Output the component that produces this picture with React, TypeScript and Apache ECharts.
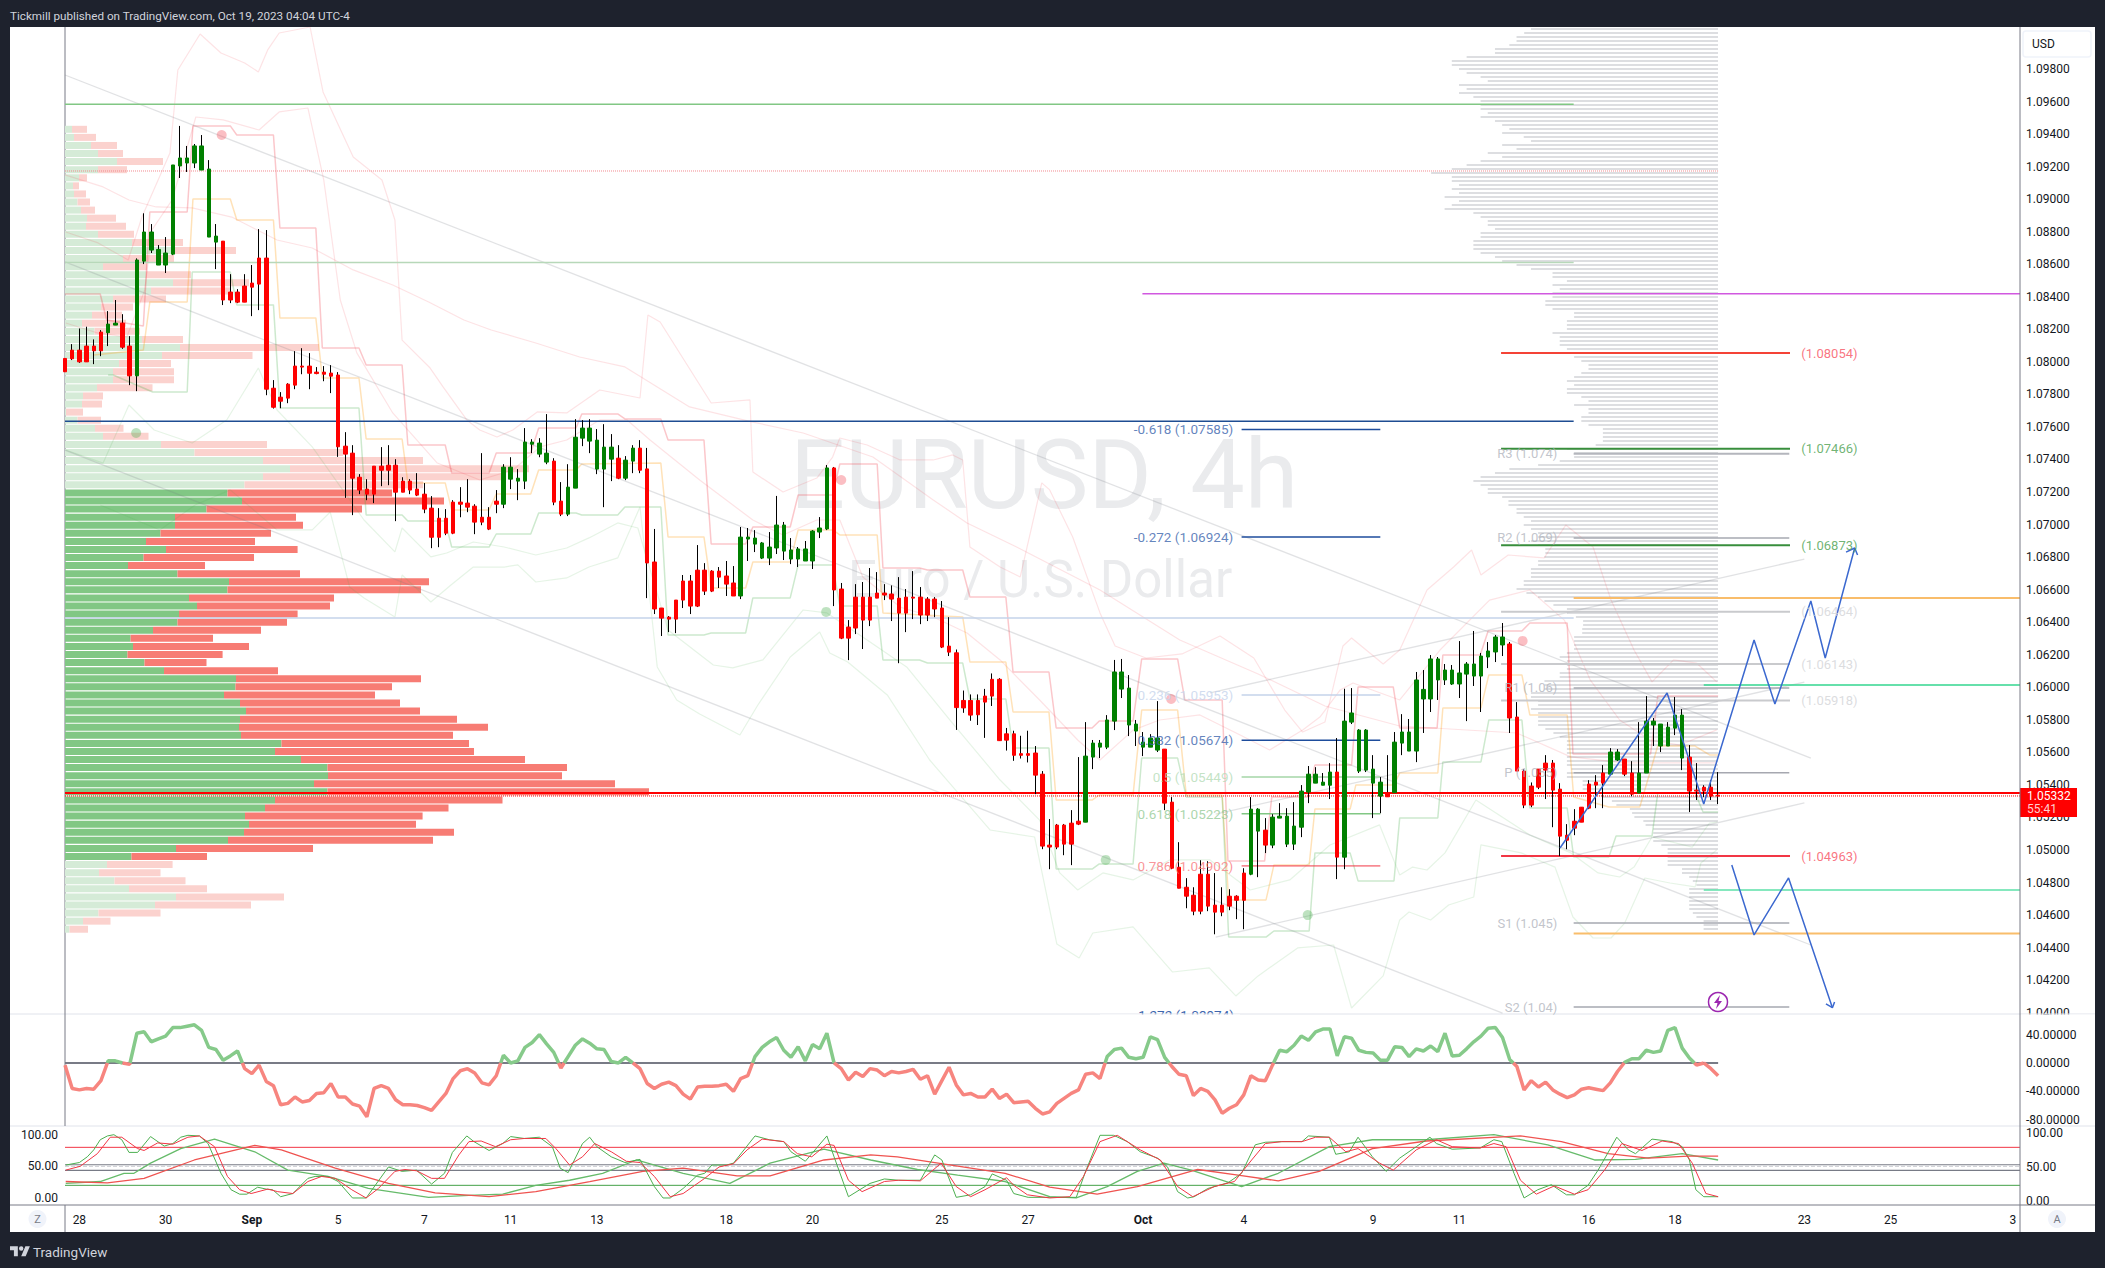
import React, { useEffect, useRef } from "react";
import * as echarts from "echarts";

const FONT = "Roboto, sans-serif";
const barCount = 273;
const dateLabels: Record<number, string> = {
  2: "28", 14: "30", 26: "Sep", 38: "5", 50: "7", 62: "11", 74: "13", 92: "18", 104: "20", 122: "25", 134: "27",
  150: "Oct", 164: "4", 182: "9", 194: "11", 212: "16", 224: "18", 242: "23", 254: "25", 271: "3",
};
const priceTicks = [1.04,1.042,1.044,1.046,1.048,1.05,1.052,1.054,1.056,1.058,1.06,1.062,1.064,1.066,1.068,1.07,1.072,1.074,1.076,1.078,1.08,1.082,1.084,1.086,1.088,1.09,1.092,1.094,1.096,1.098];
const cciTicks = [40, 0, -40, -80];
const stochTicks = [100, 50, 0];

// [open, close, low, high]
const candles: number[][] = [
[1.08021,1.07939,1.07939,1.08021],[1.08072,1.08019,1.08011,1.08109],[1.08072,1.08,1.07994,1.08205],[1.08097,1.08,1.08,1.08216],[1.08097,1.08068,1.07986,1.08138],[1.08183,1.08068,1.08035,1.08195],
[1.08179,1.08232,1.08097,1.08312],[1.08226,1.08238,1.08226,1.0838],[1.08238,1.0809,1.0808,1.08293],[1.08097,1.07914,1.07857,1.08158],[1.07914,1.08626,1.0782,1.08636],[1.08619,1.08798,1.08601,1.08913],
[1.08687,1.08798,1.08669,1.08847],[1.08595,1.08691,1.08595,1.08718],[1.08595,1.08669,1.08546,1.08767],[1.08662,1.0921,1.08656,1.0921],[1.09204,1.09253,1.0913,1.0945],[1.09222,1.09253,1.09167,1.09327],
[1.09222,1.09327,1.09191,1.09339],[1.09179,1.09327,1.09179,1.09394],[1.08767,1.09185,1.08767,1.0924],[1.08736,1.08773,1.0857,1.08847],[1.08742,1.0838,1.08349,1.08742],[1.08429,1.0838,1.08361,1.08539],
[1.08429,1.08367,1.08361,1.08447],[1.08466,1.08367,1.08367,1.08539],[1.08484,1.08459,1.08281,1.08595],[1.08638,1.08478,1.08318,1.08816],[1.08638,1.07832,1.07795,1.0881],[1.07838,1.07721,1.07713,1.07888],
[1.07783,1.07758,1.07715,1.07814],[1.07863,1.07777,1.07746,1.07869],[1.07974,1.07857,1.07832,1.08066],[1.07974,1.07968,1.07924,1.08084],[1.07974,1.0793,1.07832,1.08054],[1.07937,1.07928,1.07924,1.07968],
[1.07937,1.07924,1.07881,1.07974],[1.07931,1.07912,1.07808,1.0798],[1.07919,1.07478,1.07416,1.07937],[1.07482,1.07433,1.07164,1.07568],[1.07439,1.07285,1.07058,1.07488],[1.07291,1.07212,1.07187,1.0731],
[1.07218,1.07187,1.0715,1.07279],[1.07359,1.07187,1.07132,1.07359],[1.07359,1.07334,1.07236,1.07476],[1.07365,1.07334,1.07242,1.07488],[1.07365,1.07199,1.07021,1.07402],[1.07267,1.07199,1.07199,1.07291],
[1.07267,1.07212,1.07187,1.07279],[1.07218,1.07181,1.07175,1.07316],[1.07187,1.07095,1.0707,1.07255],[1.07101,1.06922,1.06855,1.07175],[1.07039,1.06922,1.06861,1.07101],[1.07039,1.06947,1.06935,1.07095],
[1.07138,1.06947,1.06941,1.0715],[1.07138,1.07125,1.07045,1.0723],[1.07132,1.07107,1.07076,1.07279],[1.07113,1.07015,1.06941,1.07125],[1.07045,1.07015,1.06996,1.07439],[1.07045,1.06972,1.06966,1.07107],
[1.07144,1.07125,1.0707,1.07212],[1.07125,1.07353,1.07101,1.07371],[1.07279,1.07353,1.07218,1.07414],[1.07267,1.07285,1.0715,1.07341],[1.07267,1.07507,1.07218,1.07593],[1.07494,1.07507,1.07439,1.07525],
[1.07433,1.07501,1.07414,1.07531],[1.07384,1.07439,1.07371,1.07679],[1.0739,1.07138,1.07119,1.07408],[1.07144,1.07064,1.07052,1.07261],[1.07064,1.0723,1.07052,1.07371],[1.07224,1.07537,1.07224,1.07648],
[1.07531,1.07593,1.07482,1.07642],[1.07513,1.07593,1.07439,1.07648],[1.07341,1.07519,1.0731,1.07587],[1.07341,1.07476,1.07107,1.07617],[1.07402,1.07476,1.07267,1.07556],[1.07408,1.07285,1.07279,1.07488],
[1.07285,1.07396,1.07273,1.07421],[1.0739,1.0747,1.07316,1.07488],[1.0747,1.07334,1.07316,1.07519],[1.07342,1.06764,1.06548,1.07471],[1.0677,1.06481,1.0645,1.06973],[1.06487,1.06425,1.06315,1.06487],
[1.06431,1.06419,1.06339,1.06438],[1.06536,1.06419,1.06333,1.06536],[1.06653,1.06536,1.06487,1.0669],[1.06653,1.06499,1.0645,1.0669],[1.0672,1.06499,1.06493,1.06874],[1.0672,1.06591,1.06567,1.06763],
[1.06714,1.06591,1.06585,1.0672],[1.06714,1.06677,1.0661,1.06739],[1.06684,1.06634,1.06561,1.06776],[1.06641,1.06561,1.06561,1.06745],[1.06561,1.06923,1.06542,1.06985],[1.06911,1.06923,1.06776,1.06979],
[1.0688,1.06917,1.06831,1.06966],[1.06794,1.06887,1.06788,1.06893],[1.06794,1.06862,1.06751,1.06954],[1.06856,1.06997,1.06819,1.07176],[1.06837,1.06997,1.06782,1.07016],[1.06788,1.06844,1.06757,1.06917],
[1.06788,1.0685,1.06739,1.06862],[1.06776,1.0685,1.06776,1.06899],[1.06776,1.0696,1.06727,1.06966],[1.06954,1.06979,1.06917,1.07046],[1.06973,1.07348,1.06966,1.07366],[1.07348,1.06598,1.06499,1.07354],
[1.06604,1.06302,1.06296,1.06641],[1.0637,1.06302,1.06167,1.06413],[1.06554,1.06364,1.06327,1.06634],[1.06554,1.06413,1.06235,1.06647],[1.06554,1.06413,1.06376,1.06733],[1.06579,1.06548,1.06548,1.06708],
[1.06579,1.06567,1.06536,1.06634],[1.06573,1.06542,1.06407,1.06626],[1.06548,1.06456,1.06148,1.06677],[1.06554,1.06456,1.06339,1.06604],[1.06554,1.06548,1.06419,1.06714],[1.06554,1.06444,1.06388,1.06616],
[1.06542,1.06444,1.06407,1.06554],[1.06542,1.06481,1.06431,1.06554],[1.06487,1.06247,1.06241,1.0653],[1.06253,1.06216,1.06192,1.06431],[1.06212,1.05875,1.05738,1.06232],[1.05919,1.05873,1.05843,1.0598],
[1.05919,1.05829,1.05794,1.05956],[1.05919,1.05831,1.05768,1.05956],[1.05946,1.05909,1.05689,1.0599],[1.06049,1.05946,1.05885,1.06085],[1.06049,1.05672,1.0567,1.06056],[1.05714,1.05675,1.05611,1.0575],
[1.05714,1.05582,1.05548,1.05733],[1.05592,1.05582,1.05562,1.05702],[1.05592,1.05582,1.05538,1.05733],[1.05596,1.0546,1.05343,1.05639],[1.05466,1.05024,1.05005,1.05485],[1.0503,1.05018,1.04882,1.0519],
[1.05153,1.05018,1.05005,1.0516],[1.05153,1.05036,1.04968,1.0516],[1.05165,1.05036,1.04907,1.05245],[1.05177,1.05159,1.05153,1.05571],[1.05171,1.05577,1.05171,1.05786],[1.05571,1.05657,1.05497,1.05676],
[1.05632,1.05657,1.05565,1.05676],[1.05632,1.05799,1.0562,1.05829],[1.05792,1.06094,1.05737,1.06168],[1.05989,1.06094,1.05934,1.06174],[1.05768,1.05995,1.057,1.06075],[1.05731,1.05774,1.05639,1.05799],
[1.05632,1.05663,1.05577,1.05725],[1.05632,1.05688,1.05632,1.05712],[1.05614,1.05688,1.05602,1.05915],[1.0562,1.05288,1.05245,1.0562],[1.05294,1.04888,1.04882,1.05325],[1.04894,1.04765,1.04765,1.05048],
[1.04771,1.04716,1.04642,1.04827],[1.04722,1.04624,1.04599,1.04771],[1.04851,1.04624,1.04605,1.04937],[1.04851,1.04655,1.04624,1.04931],[1.04661,1.04618,1.04482,1.04858],[1.04661,1.04618,1.04593,1.04771],
[1.04716,1.04655,1.0463,1.04759],[1.04716,1.04691,1.04575,1.04722],[1.04858,1.04691,1.04513,1.04888],[1.04851,1.05251,1.04845,1.05325],[1.05116,1.05251,1.04833,1.05257],[1.05122,1.0503,1.04981,1.05196],
[1.0503,1.05202,1.05011,1.0522],[1.05196,1.05208,1.05196,1.05288],[1.05036,1.05208,1.05018,1.05257],[1.05036,1.05147,1.05,1.05294],[1.0514,1.05362,1.05079,1.05399],[1.05356,1.05466,1.05288,1.05516],
[1.05411,1.05466,1.05411,1.05509],[1.05398,1.05417,1.05398,1.05473],[1.05398,1.05479,1.05313,1.05534],[1.05479,1.04956,1.04821,1.05688],[1.04956,1.05792,1.04882,1.05991],[1.05786,1.05842,1.05774,1.05995],
[1.05485,1.05737,1.05473,1.05743],[1.05491,1.05737,1.05479,1.05743],[1.05411,1.05497,1.05196,1.05583],[1.05331,1.05417,1.05226,1.05448],[1.05352,1.05327,1.05327,1.05583],[1.05352,1.05663,1.05352,1.05725],
[1.05657,1.05725,1.05583,1.05835],[1.05608,1.05725,1.05608,1.05805],[1.05608,1.06045,1.0554,1.06094],[1.05928,1.05987,1.05719,1.06106],[1.05928,1.06174,1.05848,1.06198],[1.06045,1.06174,1.05922,1.06186],
[1.06045,1.06106,1.06014,1.06143],[1.0602,1.06106,1.06014,1.06137],[1.0602,1.06088,1.05934,1.06284],[1.06081,1.06143,1.05792,1.06155],[1.06069,1.06143,1.06008,1.06346],[1.06069,1.06192,1.05848,1.06211],
[1.06186,1.06223,1.06118,1.06278],[1.06217,1.06309,1.06155,1.06321],[1.0626,1.06309,1.06192,1.06395],[1.06266,1.05811,1.05719,1.06278],[1.05817,1.05485,1.05485,1.05909],[1.05485,1.05276,1.05257,1.05497],
[1.05393,1.05276,1.05263,1.05415],[1.05497,1.05386,1.05374,1.05497],[1.05534,1.05491,1.05313,1.05583],[1.05534,1.05368,1.0514,1.05553],[1.05374,1.05085,1.04962,1.05411],[1.05091,1.0506,1.05005,1.05159],
[1.05177,1.05134,1.05091,1.05251],[1.05263,1.05171,1.05171,1.05263],[1.05405,1.05257,1.05251,1.05429],[1.05417,1.05399,1.05257,1.0546],[1.05473,1.05411,1.05257,1.05522],[1.05466,1.05602,1.05466,1.05626],
[1.05553,1.05602,1.05547,1.0562],[1.05559,1.05466,1.05454,1.05559],[1.05473,1.05343,1.05331,1.05546],[1.0535,1.05473,1.0535,1.05786],[1.05473,1.05792,1.05473,1.05946],[1.05768,1.05792,1.05639,1.05811],
[1.05639,1.05774,1.05602,1.05774],[1.05639,1.05755,1.05639,1.05786],[1.05749,1.05829,1.05706,1.0594],[1.05565,1.05829,1.05491,1.05866],[1.05571,1.05362,1.05233,1.05645],[1.05368,1.05362,1.05307,1.05534],
[1.05386,1.05362,1.05325,1.05398],[1.05386,1.05331,1.05307,1.05429],[1.05337,1.05331,1.05282,1.05479],
];

const cciValues = [-3,-36,-38,-36,-37,-25,3,3,0,-2,42,44,30,34,38,50,50,52,54,46,22,19,4,10,17,-8,-15,-3,-26,-32,-59,-57,-48,-55,-53,-43,-42,-29,-48,-48,-58,-61,-76,-36,-32,-36,-52,-59,-59,-60,-63,-67,-55,-43,-22,-11,-8,-14,-28,-31,-18,11,0,3,22,29,40,27,15,-7,9,25,34,28,20,19,2,0,8,0,-8,-29,-36,-30,-27,-32,-44,-51,-34,-33,-33,-32,-30,-40,-22,-18,9,22,30,36,18,8,23,3,26,20,42,0,-8,-24,-13,-19,-8,-10,-18,-12,-14,-12,-9,-23,-18,-44,-25,-6,-31,-45,-43,-48,-48,-37,-50,-44,-56,-55,-54,-64,-72,-69,-57,-50,-43,-38,-16,-14,-22,9,19,21,8,6,8,37,33,8,-5,-16,-18,-46,-36,-40,-52,-71,-64,-59,-45,-18,-24,-25,-3,18,16,25,38,32,44,48,48,10,37,35,18,15,14,4,4,23,22,9,20,17,24,16,42,10,11,20,30,38,49,50,36,5,-5,-38,-25,-34,-27,-38,-44,-49,-45,-37,-35,-37,-39,-28,-12,1,6,6,18,15,17,46,50,21,7,-3,0,-8,-18];

const stochFastK = [[0.1,52],[2,56],[3.1,65],[4,76],[4.9,92],[5.9,98],[6.8,100],[7.9,92],[8.9,72],[10.1,72],[11.9,97],[13.8,82],[15,86],[16.1,96],[17.1,99],[18.7,98],[19.9,86],[21.7,39],[23.1,13],[24.3,6],[25.3,6],[26.8,17],[28,14],[28.9,13],[30,2],[31.7,7],[33.8,31],[34.8,34],[36.6,34],[38,26],[40,0],[41.9,0],[45,49],[46.9,42],[48.9,44],[51,22],[52.8,39],[53.9,72],[55.9,98],[56.9,89],[59,75],[60.9,86],[62,97],[63.9,94],[66,96],[67.8,81],[68.9,47],[70,40],[72,86],[73,96],[74,81],[76,65],[77.9,56],[80,61],[82,18],[83.2,0],[84.2,0],[86,15],[88,36],[89,39],[90,52],[92,52],[93,55],[96,98],[98,92],[100,89],[101,73],[103,58],[106,98],[107,65],[109,2],[112,23],[114,30],[116,28],[119,28],[121,68],[122,60],[124,1],[126,5],[128,18],[129,38],[131,28],[132,7],[134,1],[137,1],[140.7,1],[141.9,39],[144,99],[145.9,99],[147.8,89],[149.6,73],[152,63],[153.4,49],[154.8,10],[156.2,0],[157.1,2],[159,15],[161.8,24],[163.7,39],[165.6,84],[167,88],[169.3,89],[172.1,89],[173,98],[175.9,96],[176.8,69],[178.7,73],[179.9,96],[181.9,65],[183.8,42],[185.7,63],[188,81],[189.9,96],[190.8,86],[193,77],[196.9,79],[198.8,92],[199.9,89],[201.6,39],[203,0],[204.9,13],[206.8,21],[208.9,5],[210,5],[211.9,20],[213.3,44],[215.9,96],[217.5,76],[218.5,70],[220.8,93],[223.6,89],[225,81],[226,60],[226.9,13],[228,2],[230,2]];
const stochFastD = [[0.1,44],[2.1,50],[4.5,70],[6.3,96],[7.9,96],[10.1,78],[11,75],[12.9,87],[15,85],[17.1,96],[18.7,98],[20.8,81],[22.6,34],[24.3,13],[25.9,7],[28.2,14],[29.6,10],[31.7,7],[33.8,26],[35.7,34],[37.6,31],[39.9,13],[41.9,0],[43.6,15],[45.9,42],[47.3,45],[48.9,43],[51,31],[52.8,31],[54.8,68],[56.2,89],[57.9,90],[59.9,81],[62,92],[63.9,94],[66.9,94],[68.3,78],[70.2,52],[72,65],[73.7,86],[76,73],[78.1,58],[80,56],[82,34],[84.2,2],[86,7],[89,31],[91,49],[93,54],[94.9,76],[97,93],[100,89],[101.9,70],[103.9,65],[106,85],[107,83],[109,28],[110.9,10],[114,26],[116,28],[119,27],[121.9,55],[124,18],[126,2],[128,13],[131,32],[132,20],[133.9,5],[137,0],[139.8,2],[141.7,34],[144,89],[146.4,99],[149.6,76],[152.4,60],[154.8,18],[156.9,2],[159.9,18],[162.7,26],[165.1,60],[167,86],[169.3,89],[172.1,89],[174,96],[175.9,96],[178.2,73],[179.9,78],[182.9,55],[184.8,44],[188,76],[190.8,92],[193,81],[196.9,79],[198.8,86],[200.5,81],[202.5,28],[204.7,6],[207.2,19],[210,6],[211.9,13],[214.2,44],[216.6,86],[219.4,75],[222.2,90],[224.5,86],[226.4,55],[228.3,7],[230,2]];
const stochSlowK = [[0.1,23],[4.9,26],[8.2,39],[9.6,39],[11.9,55],[16.1,78],[20.8,93],[26.4,73],[31,44],[36.6,34],[42.2,15],[50.6,1],[56.2,4],[60.9,6],[65.5,20],[70.2,28],[74.8,39],[79.5,60],[86,39],[92.5,23],[98.1,55],[105.6,77],[112.1,60],[118.6,45],[124.2,36],[130.8,26],[137,2],[140.7,0],[145,18],[149.2,42],[152.9,55],[156.7,44],[163.7,18],[168.8,39],[175.9,81],[181.9,92],[189.4,92],[198.8,100],[206.3,84],[212.8,60],[218.5,61],[225,70],[230,60]];
const stochSlowD = [[0.1,26],[5.9,24],[11,31],[18,60],[26.4,83],[30.1,76],[37.6,47],[45,23],[51.5,8],[59,2],[65.5,10],[73,26],[80.4,42],[86,47],[93.5,35],[98.1,35],[105.6,60],[112.1,68],[115.8,65],[123.3,52],[130.8,39],[137,17],[143.6,6],[149.2,18],[157.6,45],[163.2,36],[168.8,27],[174.5,42],[181.9,78],[189.4,90],[202.5,98],[208.2,89],[214.7,70],[220.3,63],[225.9,66],[230,66]];

const upperChannel = [[0,1.08417],[4.9,1.08417],[5.8,1.08257],[10.9,1.0822],[11.8,1.08921],[17,1.08921],[17.8,1.0945],[23,1.0945],[23.9,1.09394],[29,1.09394],[29.9,1.08823],[34.9,1.08823],[35.8,1.08085],[40.9,1.08085],[41.9,1.07981],[46.9,1.07981],[47.7,1.07489],[52.9,1.07489],[53.8,1.07317],[59,1.07317],[60,1.0744],[64.8,1.0744],[65.9,1.07594],[71.1,1.07594],[71.9,1.0768],[76.9,1.0768],[77.9,1.07649],[82.9,1.07649],[83.9,1.0752],[88.9,1.0752],[89.9,1.06881],[94.7,1.06881],[95.7,1.06985],[100.9,1.06985],[102,1.07182],[106.8,1.07182],[107.8,1.07372],[113,1.07372],[113.8,1.06733],[118.9,1.06733],[120,1.06721],[124.9,1.06721],[125.9,1.06555],[130.9,1.06555],[131.9,1.06094],[136.9,1.06094],[137.9,1.0575],[142.9,1.0575],[143.9,1.05793],[148.6,1.05793],[149.8,1.06174],[154.8,1.06174],[155.8,1.05922],[161,1.05922],[161.8,1.04932],[166.9,1.04932],[167.9,1.05326],[172.9,1.05326],[173.9,1.05522],[179,1.05522],[179.9,1.06002],[184.8,1.06002],[185.7,1.0575],[190.9,1.0575],[191.7,1.06198],[196.9,1.06198],[198,1.06346],[202.7,1.06346],[203.8,1.06395],[209,1.06395],[209.8,1.0559],[220.6,1.0559],[221.6,1.05946],[230,1.05946]];
const midChannel = [[4,1.08042],[10.9,1.08073],[11.8,1.08368],[17,1.08368],[17.8,1.09001],[23,1.09001],[23.9,1.08872],[29,1.08872],[29.9,1.0827],[34.9,1.0827],[35.8,1.07901],[40.9,1.07901],[41.9,1.07526],[46.9,1.07526],[47.7,1.07256],[52.9,1.07256],[53.8,1.0709],[59,1.0709],[60,1.07188],[64.8,1.07188],[65.9,1.07335],[71.1,1.07335],[71.9,1.07372],[82.9,1.07378],[83.9,1.06924],[88.9,1.06924],[89.9,1.0661],[94.7,1.0661],[95.7,1.0677],[100.9,1.0677],[102,1.06967],[106.8,1.06967],[107.8,1.06936],[113,1.06936],[113.8,1.06457],[124.9,1.06432],[125.9,1.06155],[130.9,1.06155],[131.9,1.05848],[136.9,1.05848],[137.9,1.05307],[142.9,1.05307],[143.9,1.05338],[148.6,1.05338],[149.8,1.0586],[154.8,1.0586],[156,1.05338],[161,1.05338],[161.9,1.04693],[167.1,1.04693],[168.2,1.04908],[173.1,1.04908],[173.9,1.05252],[178.8,1.05252],[179.6,1.054],[184.9,1.054],[185.7,1.05473],[191,1.05473],[191.7,1.05873],[197,1.05873],[198.1,1.06076],[202.7,1.06076],[203.8,1.0583],[209,1.0583],[209.9,1.05326],[214.8,1.05264],[219.1,1.05264],[221.6,1.05639],[226.8,1.05639],[228.8,1.05584],[230,1.05584]];
const lowerChannel = [[6,1.07919],[6.7,1.07919],[12.2,1.07815],[17,1.07815],[17.7,1.08552],[23,1.08552],[23.9,1.0835],[29,1.0835],[29.9,1.07716],[40.9,1.07716],[41.9,1.07059],[46.9,1.07059],[47.7,1.07022],[52.9,1.07022],[53.8,1.06862],[59,1.06862],[60,1.06942],[64.8,1.06942],[65.9,1.07071],[71.1,1.07071],[71.9,1.07059],[76.9,1.07059],[77.9,1.07108],[82.9,1.07108],[83.9,1.06321],[88.9,1.06321],[89.9,1.06334],[94.7,1.06334],[95.7,1.06549],[100.9,1.06549],[102,1.06752],[106.8,1.06752],[107.8,1.065],[113,1.065],[113.8,1.06168],[118.9,1.06168],[120,1.06149],[124.9,1.06149],[125.9,1.05928],[130.9,1.05928],[131.9,1.05627],[136.9,1.05627],[137.9,1.04883],[142.9,1.04883],[143.9,1.04914],[148.6,1.04914],[149.8,1.05565],[154.8,1.05565],[156,1.05326],[161,1.05326],[161.9,1.04465],[167.1,1.04465],[168.2,1.04502],[173.1,1.04502],[173.9,1.04982],[178.8,1.04982],[179.9,1.0481],[184.9,1.0481],[185.7,1.05197],[191,1.05197],[191.7,1.05541],[197,1.05541],[198.1,1.05799],[202.7,1.05799],[203.8,1.05258],[209,1.05258],[209.9,1.04957],[214.8,1.04957],[215.8,1.05086],[220.8,1.05086],[221.6,1.0535],[226.8,1.0535],[227.9,1.05233],[230,1.05233]];

const pinkOuter = [[0.1,1.08798],[4.6,1.08731],[8.8,1.08626],[10.7,1.0889],[14.6,1.09284],[15.7,1.09794],[18.8,1.10015],[21.7,1.09898],[25,1.09837],[26.9,1.09782],[28.2,1.09917],[29.8,1.10021],[34.1,1.10058],[35.9,1.09659],[40.1,1.09259],[44.1,1.09118],[45.9,1.08872],[46.9,1.08134],[50.8,1.07962],[52.6,1.07846],[55.9,1.07643],[57.7,1.07581],[60.1,1.07538],[62.3,1.07581],[65.7,1.07692],[69.8,1.07686],[74.4,1.07827],[80,1.07778],[81.1,1.08288],[82.8,1.08245],[89.9,1.07747],[95.3,1.07766],[95.7,1.07323],[99.9,1.072],[104.6,1.07286],[106.8,1.07415],[107.8,1.07532],[111.6,1.07489],[116.2,1.07397],[120.8,1.07397],[123.5,1.07428],[124.9,1.07397],[125.9,1.06862],[130.1,1.06739],[132.9,1.06678],[135.9,1.07256],[137,1.07213],[140.2,1.06924],[144,1.06457],[146.1,1.06254],[150.4,1.0618],[155.4,1.06205],[160.7,1.06315],[165.4,1.0618],[169.7,1.0586],[172.2,1.05725],[175.3,1.05787],[177.8,1.06254],[179,1.06303],[183.4,1.06143],[185.7,1.06229],[189.5,1.06598],[193.2,1.06739],[195.7,1.06844],[197,1.0669],[200.8,1.06813],[205.8,1.06795],[208.8,1.06997],[212.6,1.06862],[215.1,1.06536],[218.3,1.06229],[220.8,1.06033],[223.8,1.06168],[227,1.06149],[229.8,1.06033]];
const pinkInner = [[0.1,1.08239],[4.6,1.08177],[8.6,1.08153],[11.1,1.08442],[12.1,1.08811],[14.9,1.08995],[18.2,1.09505],[22,1.09487],[27,1.09425],[29.8,1.09536],[33.8,1.0956],[36,1.09118],[38.3,1.0838],[40.6,1.08055],[45.6,1.07686],[51.8,1.07378],[57.7,1.07274],[62.3,1.07335],[66.1,1.07477],[69.8,1.0752],[74.4,1.07643],[78.2,1.07643],[81.4,1.0752],[88.3,1.07274],[95.7,1.07028],[99.9,1.06936],[104.6,1.07028],[107.8,1.07028],[111,1.06678],[116.2,1.06493],[120.8,1.06432],[125.5,1.06334],[130.1,1.06168],[135.6,1.05922],[140.9,1.05676],[144,1.05553],[148.6,1.05737],[152.3,1.05799],[157.9,1.0583],[163.5,1.05707],[167.6,1.05615],[172.2,1.05737],[174.6,1.05817],[177.4,1.05983],[179.2,1.06026],[185.7,1.05922],[191.3,1.06229],[198.2,1.06536],[203.8,1.06598],[208.6,1.06413],[212.2,1.06045],[216.3,1.05799],[220.5,1.05676],[224.7,1.05645],[229.8,1.05738]];
const pinkBasis = [[0,1.09149],[5.3,1.09075],[8.9,1.08995],[12.7,1.08952],[17.7,1.08946],[23.2,1.0889],[29.5,1.08749],[34.4,1.087],[40.1,1.08565],[45.6,1.08472],[50.6,1.08368],[55.5,1.08257],[59.3,1.08196],[65.5,1.08116],[71.6,1.0803],[77.9,1.07969],[86.9,1.07723],[95.7,1.0763],[102.7,1.07563],[112.4,1.07415],[120.8,1.07151],[125.5,1.0701],[132.4,1.06862],[144,1.06598],[155.1,1.06291],[166,1.06082],[175.3,1.05885],[185.7,1.05762],[202,1.05719],[209.5,1.05572],[217,1.05535],[229.8,1.05535]];
const greenUpper = [[0.1,1.07458],[5.3,1.07378],[8.9,1.07735],[12.4,1.07581],[17.7,1.07501],[22.5,1.07643],[26.9,1.07962],[29.5,1.07704],[34.4,1.07477],[41.6,1.07028],[45.9,1.06832],[46.9,1.06979],[50.9,1.06801],[53.1,1.06825],[56.8,1.06893],[61.1,1.06862],[65.5,1.06813],[69.8,1.06856],[72.9,1.06918],[76.9,1.0701],[79.7,1.06979],[83.9,1.06352],[90.2,1.06137],[92.9,1.06119],[97.1,1.06168],[102.7,1.06475],[106,1.06457],[111.6,1.06291],[117.1,1.06125],[123.1,1.05799],[130.1,1.0543],[135.6,1.05184],[138.4,1.04859],[140.9,1.04754],[144.4,1.04859],[148.6,1.04816],[153.7,1.04939],[159.3,1.04939],[164.9,1.04754],[170.4,1.04816],[176,1.05031],[182.9,1.05154],[185.7,1.04846],[187.5,1.04895],[189.5,1.04877],[192,1.04982],[196.3,1.05307],[203.8,1.05092],[209.5,1.04982],[213.3,1.04859],[216.3,1.04834],[218.3,1.04895],[220.8,1.0508],[226.4,1.05018],[228.8,1.05166],[229.9,1.05172]];
const greenLower = [[4.9,1.0712],[13.2,1.06967],[18.1,1.0712],[23,1.07213],[29.5,1.06967],[34.4,1.06967],[36.9,1.07077],[39.6,1.06616],[41.6,1.06549],[45.9,1.06432],[46.9,1.0669],[50.9,1.06524],[53.7,1.06629],[56.8,1.06739],[61.1,1.06739],[63,1.06752],[65.5,1.06647],[69.8,1.06672],[72.9,1.06739],[76.9,1.06795],[80,1.07108],[82.4,1.06125],[85.1,1.05922],[88.3,1.05836],[93.9,1.05707],[96.4,1.05891],[100.9,1.06186],[105,1.0634],[106.4,1.06211],[108.9,1.06155],[114.4,1.05953],[120.3,1.05553],[128.7,1.05123],[134.9,1.0508],[138,1.04422],[141.1,1.04336],[143,1.0449],[148.6,1.04527],[154.1,1.0425],[159.2,1.04275],[162.9,1.04103],[166,1.04226],[171.5,1.04398],[176.5,1.04416],[179,1.04029],[183.4,1.04226],[185.7,1.0457],[187,1.04619],[190,1.0457],[192.5,1.04662],[196,1.04711],[197,1.05031],[202.6,1.04982],[207.3,1.04895],[209.8,1.04588],[212.6,1.04459],[215.1,1.04459],[217,1.04551],[219.8,1.04828],[223.3,1.04797],[226.8,1.04773],[227.6,1.0492],[229.8,1.05]];

const trendLines = [
  [[0,1.09763],[242.9,1.05565]], [[0,1.08614],[242.9,1.04416]], [[0,1.07458],[200,1.03998]],
  [[160.1,1.04465],[242,1.05289]], [[159.3,1.05965],[242,1.06788]], [[160.1,1.05221],[242,1.06032]],
];
const projectionUp = [[208,1.05012],[222.9,1.05965],[228,1.05283],[235,1.06291],[237.9,1.05897],[242.9,1.0653],[244.9,1.0618],[249,1.06856]];
const projectionUpHead = [[247.8,1.06831],[249,1.06856],[249.4,1.06813]];
const projectionDown = [[231.9,1.04908],[235,1.04478],[239.8,1.04828],[245.9,1.04031]];
const projectionDownHead = [[245,1.04054],[245.9,1.04031],[246.2,1.04066]];

// [price, fromBar, toBar, colour, width, type]
const levels: any[][] = [
  [1.09583,0,209.9,"#81c784",1.5,"solid"],[1.09173,0,230,"#f28b91",1,"dotted"],[1.08611,0,209.9,"#b7d8b9",1.5,"solid"],
  [1.07635,0,209.9,"#1e4d92",1.5,"solid"],[1.06426,0,209.9,"#c5d3ea",1.5,"solid"],[1.08419,149.9,272,"#d158e0",1.5,"solid"],
  [1.06549,209.9,272,"#f9bd6b",2,"solid"],[1.04486,209.9,272,"#f9bd6b",2,"solid"],[1.06014,228,272,"#33d68f",1.5,"solid"],[1.04754,228,272,"#5ce0a8",1.5,"solid"],
  [1.08054,199.8,240,"#f44336",2,"solid"],[1.07466,199.8,240,"#388e3c",2,"solid"],[1.06873,199.8,240,"#388e3c",2,"solid"],
  [1.06464,199.8,240,"#c9cacd",2,"solid"],[1.06143,199.8,240,"#c9cacd",2,"solid"],[1.05918,199.8,240,"#c9cacd",2,"solid"],[1.04963,199.8,240,"#f23645",2,"solid"],
  [1.07436,209.9,239.9,"#b4b6bd",2,"solid"],[1.06918,209.9,239.9,"#a6a8b0",1.5,"solid"],[1.05996,209.9,239.9,"#a6a8b0",1.5,"solid"],[1.05474,209.9,239.9,"#a6a8b0",1.5,"solid"],[1.04551,209.9,239.9,"#a6a8b0",1.5,"solid"],[1.04035,209.9,239.9,"#a6a8b0",1.5,"solid"],
  [1.07585,163.7,183,"#1e4d9c",1.5,"solid"],[1.06924,163.7,183,"#1e4d9c",1.5,"solid"],[1.05953,163.7,183,"#c5d3ea",1.5,"solid"],[1.05674,163.7,183,"#1e4d9c",1.5,"solid"],[1.05449,163.7,183,"#a5d6a7",1.5,"solid"],[1.05223,163.7,183,"#81c784",1.5,"solid"],[1.04902,163.7,183,"#f23645",1,"solid"],
  [1.0535,0,272,"#ff0000",2,"solid"],[1.05332,0,272,"#ff0000",1,"dotted"],
];

// [text, bar, price, side, colour]
const levelLabels: any[][] = [
  ["-0.618 (1.07585)",162.6,1.07585,"left","#3c65ad"],["-0.272 (1.06924)",162.6,1.06924,"left","#3c65ad"],["0.236 (1.05953)",162.6,1.05953,"left","#c6d4ec"],["0.382 (1.05674)",162.6,1.05674,"left","#3c65ad"],
  ["0.5 (1.05449)",162.6,1.05449,"left","#b5dcb7"],["0.618 (1.05223)",162.6,1.05223,"left","#96cb99"],["0.786 (1.04902)",162.6,1.04902,"left","#f77b80"],
  ["R3 (1.074)",207.7,1.07436,"left","#b2b5be"],["R2 (1.069)",207.7,1.06918,"left","#b2b5be"],["R1 (1.06)",207.7,1.05996,"left","#b2b5be"],["P (1.055)",207.7,1.05474,"left","#b2b5be"],["S1 (1.045)",207.7,1.04551,"left","#b2b5be"],["S2 (1.04)",207.7,1.04035,"left","#b2b5be"],
  ["(1.08054)",241.5,1.08054,"right","#f7525f"],["(1.07466)",241.5,1.07466,"right","#4c9f50"],["(1.06873)",241.5,1.06873,"right","#4c9f50"],["(1.06464)",241.5,1.06464,"right","#d3d4d7"],["(1.06143)",241.5,1.06143,"right","#d3d4d7"],["(1.05918)",241.5,1.05918,"right","#d3d4d7"],["(1.04963)",241.5,1.04963,"right","#f7525f"],
];

const highPoints = [[21.8,1.09394],[108,1.07274],[153.9,1.05928],[202.8,1.06285]];
const lowPoints = [[9.9,1.07563],[105.9,1.06463],[144.8,1.04939],[172.9,1.046]];

const profileUp = [7,9,26,33,52,33,14,8,9,12.5,16,22,21,33,67,109,58,38,81,108,86,48,36,27,17,29.5,77,115,97,54,48,48,32,18,17,1,12.5,30,38,96,129.5,198,225,198,179.5,162.5,177,141.5,110,110,95.5,81,101,78.6,63,112.5,164,162.5,124,132,114,112.5,88,65.6,68,62.5,79.5,99,171,170.5,159,175,181,175,174,176,216.5,210,236,262.5,263,249,262.5,210,200,180,184,179,163,111,66.5,42,34,49.5,64,111,90,33.5,18,4.5];
const profileTotal = [22,31,52,58,98,62,22,14,21,25,30,51,61,69,118,171,109,82,126,184,166,101,68,57,61,75,118,254,187.5,106,109,109,87.5,38,37,18,36,58.5,83.5,202,278,358,464,439,358,327,379,297,231,238,206,190,232.6,189,140,235,364,356,269,265,232.6,222,196,148,184,157.6,141.5,213,356,327,310,335,355,392,423,388,404,409,460,502,497,550,584,437.5,383.5,357.6,351,389,368,248,142,107.6,95.5,120.5,142,219,186,95.5,45.5,23];
const valueAreaRows = [45, 90];
const rightProfile = [416,431,448,448,464,496,496,559,592,592,576,559,528,512,576,559,576,544,528,528,528,512,528,496,480,464,480,432,416,480,448,512,480,528,559,592,638,592,592,576,592,576,608,576,592,608,544,528,512,512,496,528,528,544,544,544,528,496,480,448,416,368,368,336,368,352,368,368,384,384,368,320,320,336,336,336,368,352,352,352,336,320,320,304,288,288,304,320,336,320,336,336,304,288,320,288,288,304,304,288,256,256,256,256,272,336,320,320,352,400,464,496,528,544,528,512,512,480,
466,466,448,448,432,416,432,416,400,400,416,400,384,384,386,400,400,416,416,416,432,432,448,426,400,386,366,336,336,316,300,300,302,302,320,320,320,320,336,352,336,336,336,352,352,386,386,386,416,416,400,400,416,400,400,400,400,384,366,352,336,336,336,336,336,336,336,326,336,336,301,301,301,276,256,236,226,196,191,186,166,161,144,144,144,144,126,112,112,112,112,112,80,80,64,56,48,64,64,64,64,64,64,56,48,32,32,32];

const TV_LOGO = "M14 22H7V11H0V4h14v18zM28 22h-8l7.5-18h8L28 22zM16 8a4 4 0 1 0 8 0a4 4 0 1 0-8 0z";

function line(data: any, xAxisIndex: number, yAxisIndex: number, color: string, width: number, z = 2, type = "solid", extra: any = {}) {
  return { type: "line", data, xAxisIndex, yAxisIndex, symbol: "none", showSymbol: false, silent: true, z, lineStyle: { color, width, type }, ...extra };
}

// Splits the CCI into its positive and negative runs so each can take its own colour.
function signRuns(values: number[]) {
  const pos: any[] = [];
  const neg: any[] = [];
  values.forEach((v, i) => {
    if (i > 0) {
      const prev = values[i - 1];
      if ((prev < 0) !== (v < 0)) {
        const cross = i - 1 + (0 - prev) / (v - prev);
        pos.push([cross, 0]);
        neg.push([cross, 0]);
      }
    }
    pos.push([i, v >= 0 ? v : null]);
    neg.push([i, v < 0 ? v : null]);
  });
  return { pos, neg };
}

function buildOption() {
  const categories = Array.from({ length: barCount }, (_, i) => dateLabels[i] ?? "");
  const series: any[] = [];
  const strong = (r: number) => r >= valueAreaRows[0] && r <= valueAreaRows[1];
  const rowNames = profileUp.map((_, i) => `${i}`);
  series.push({ type: "bar", name: "Up volume", xAxisIndex: 5, yAxisIndex: 4, stack: "vp", barWidth: 7, silent: true, z: 1,
    data: profileUp.map((v, r) => ({ value: v, itemStyle: { color: strong(r) ? "#81c784" : "#d5ebd7" } })) });
  series.push({ type: "bar", name: "Down volume", xAxisIndex: 5, yAxisIndex: 4, stack: "vp", barWidth: 7, silent: true, z: 1,
    data: profileTotal.map((t, r) => ({ value: +(t - profileUp[r]).toFixed(1), itemStyle: { color: strong(r) ? "#f77c74" : "#fbd2ce" } })) });
  series.push({ type: "bar", name: "Session volume", xAxisIndex: 6, yAxisIndex: 5, barWidth: 2, silent: true, z: 1, itemStyle: { color: "#dddee1" }, data: rightProfile });

  series.push(line(pinkOuter, 1, 0, "rgba(242,54,69,0.14)", 1.2));
  series.push(line(pinkInner, 1, 0, "rgba(242,54,69,0.14)", 1.2));
  series.push(line(pinkBasis, 1, 0, "rgba(242,54,69,0.14)", 1.2));
  series.push(line(greenUpper, 1, 0, "rgba(76,175,80,0.14)", 1.2));
  series.push(line(greenLower, 1, 0, "rgba(76,175,80,0.14)", 1.2));
  series.push(line(upperChannel, 1, 0, "rgba(242,54,69,0.28)", 1.5));
  series.push(line(midChannel, 1, 0, "rgba(255,152,0,0.28)", 1.5));
  series.push(line(lowerChannel, 1, 0, "rgba(76,175,80,0.28)", 1.5));
  trendLines.forEach((t) => series.push(line(t, 1, 0, "rgba(120,123,134,0.22)", 1.3)));
  levels.forEach(([p, a, b, c, w, ty]) => series.push(line([[a, p], [b, p]], 1, 0, c, w, 2, ty)));

  series.push({ type: "candlestick", name: "EURUSD wicks", xAxisIndex: 0, yAxisIndex: 0, barWidth: 1, silent: true, z: 3,
    itemStyle: { color: "#000", color0: "#000", borderColor: "#000", borderColor0: "#000", borderWidth: 1 }, data: candles });
  series.push({ type: "candlestick", name: "EURUSD", xAxisIndex: 0, yAxisIndex: 0, barWidth: 4, silent: true, z: 3,
    itemStyle: { color: "#008000", color0: "#ff0000", borderColor: "#008000", borderColor0: "#ff0000", borderWidth: 1 },
    data: candles.map(([o, c]) => [o, c, Math.min(o, c), Math.max(o, c)]) });

  series.push(line(projectionUp, 1, 0, "#3b68cf", 1.5, 4));
  series.push(line(projectionUpHead, 1, 0, "#3b68cf", 1.5, 4));
  series.push(line(projectionDown, 1, 0, "#3b68cf", 1.5, 4));
  series.push(line(projectionDownHead, 1, 0, "#3b68cf", 1.5, 4));

  series.push({ type: "scatter", xAxisIndex: 1, yAxisIndex: 0, symbolSize: 10, silent: true, z: 4, itemStyle: { color: "rgba(242,54,69,0.4)" }, data: highPoints });
  series.push({ type: "scatter", xAxisIndex: 1, yAxisIndex: 0, symbolSize: 10, silent: true, z: 4, itemStyle: { color: "rgba(76,175,80,0.45)" }, data: lowPoints });
  series.push({ type: "scatter", xAxisIndex: 1, yAxisIndex: 0, symbolSize: 1, silent: true, z: 4, itemStyle: { color: "rgba(0,0,0,0)" },
    data: levelLabels.map(([text, bar, price, side, color]) => ({
      value: [bar, price],
      label: { show: true, formatter: text, position: side, distance: 0, color, fontSize: side === "left" && bar < 200 ? 13.5 : 13, fontFamily: FONT },
    })) });

  series.push(line([[0, 0], [230, 0]], 2, 1, "#787b86", 2));
  const { pos, neg } = signRuns(cciValues);
  series.push(line(pos, 2, 1, "#86ca8a", 3.5, 3));
  series.push(line(neg, 2, 1, "#f7857f", 3.5, 3));

  const stochLevels: any[][] = [[80, "#f23645", 1, "solid"], [20, "#43a047", 1, "solid"], [52.5, "#787b86", 1.2, "solid"], [43.7, "#787b86", 1.2, "solid"], [50, "#c9cbd1", 1, "dashed"]];
  stochLevels.forEach(([v, c, w, ty]) => series.push(line([[0, v], [272, v]], 3, 2, c, w, 2, ty)));
  series.push(line(stochSlowK, 3, 2, "#66bb6a", 1.3, 3));
  series.push(line(stochSlowD, 3, 2, "#ef5350", 1.3, 3));
  series.push(line(stochFastK, 3, 2, "#4caf50", 1, 3));
  series.push(line(stochFastD, 3, 2, "#f23645", 1, 3));
  series.push(line([[0, 50]], 3, 3, "rgba(0,0,0,0)", 0));

  const hiddenX = (gridIndex: number, min: number, max: number, inverse = false) => ({ type: "value", gridIndex, min, max, inverse, show: false, splitLine: { show: false } });
  const labelStyle = { color: "#131722", fontSize: 12, fontFamily: FONT };

  const text = (x: number, y: number, t: string, style: any, z = 5) => ({ type: "text", x, y, z, silent: true, style: { text: t, fontFamily: FONT, ...style } });
  const rule = (x1: number, y1: number, x2: number, y2: number, stroke: string, z = 1) => ({ type: "line", z, silent: true, shape: { x1, y1, x2, y2 }, style: { stroke, lineWidth: 1 } });

  const graphic: any[] = [
    { type: "rect", z: -10, silent: true, shape: { x: 10, y: 27, width: 2085, height: 1205 }, style: { fill: "#fff" } },
    text(790, 475, "EURUSD, 4h", { fill: "#eaebed", fontSize: 97, verticalAlign: "middle" }, -5),
    text(848, 579, "Euro / U.S. Dollar", { fill: "#eaebed", fontSize: 51, verticalAlign: "middle" }, -5),
    text(10, 16, "Tickmill published on TradingView.com, Oct 19, 2023 04:04 UTC-4", { fill: "#d1d4dc", fontSize: 11.7, verticalAlign: "middle" }),
    text(1234, 1015, "1.272 (1.03974)", { fill: "#3c65ad", fontSize: 13.5, align: "right", verticalAlign: "middle" }, 1),
    { type: "rect", z: 1.5, silent: true, shape: { x: 1100, y: 1014.5, width: 140, height: 16 }, style: { fill: "#fff" } },
    { type: "rect", z: 10, silent: true, shape: { x: 2021, y: 1014.5, width: 74, height: 7 }, style: { fill: "#fff" } },
    rule(10, 1014, 2095, 1014, "#e0e3eb"), rule(10, 1126, 2095, 1126, "#e0e3eb"),
    rule(10, 1205, 2095, 1205, "#787b86"), rule(65, 27, 65, 1126, "#787b86"), rule(65, 1205, 65, 1232, "#787b86"),
    rule(2020, 27, 2020, 1232, "#787b86", 11),
    { type: "rect", z: 5, silent: true, shape: { x: 2023, y: 31, width: 68, height: 26, r: 3 }, style: { fill: "#fff", stroke: "#f0f3fa", lineWidth: 1.5 } },
    text(2032, 44, "USD", { fill: "#131722", fontSize: 12, verticalAlign: "middle" }, 6),
    { type: "rect", z: 10, silent: true, shape: { x: 2020, y: 788, width: 57, height: 29 }, style: { fill: "#ff0000" } },
    text(2027, 796, "1.05332", { fill: "#fff", fontSize: 12, verticalAlign: "middle" }, 11),
    text(2027, 809, "55:41", { fill: "#ffd0d0", fontSize: 12, verticalAlign: "middle" }, 11),
    { type: "circle", z: 5, silent: true, shape: { cx: 37.5, cy: 1219, r: 9 }, style: { fill: "#f0f3fa" } },
    text(37.5, 1219, "Z", { fill: "#787b86", fontSize: 11, align: "center", verticalAlign: "middle" }, 6),
    { type: "circle", z: 5, silent: true, shape: { cx: 2057, cy: 1219, r: 9 }, style: { fill: "#f0f3fa" } },
    text(2057, 1219, "A", { fill: "#787b86", fontSize: 11, align: "center", verticalAlign: "middle" }, 6),
    { type: "tvlogo", x: 10, y: 1244, scaleX: 0.56, scaleY: 0.56, z: 5, silent: true, style: { fill: "#d1d4dc" } },
    text(33, 1252, "TradingView", { fill: "#d1d4dc", fontSize: 13.5, verticalAlign: "middle" }),
    { type: "circle", z: 6, silent: true, shape: { cx: 1718, cy: 1002, r: 9.5 }, style: { fill: "#fff", stroke: "#9c27b0", lineWidth: 1.5 } },
    { type: "polygon", z: 7, silent: true, shape: { points: [[1720, 995], [1714, 1003], [1717.5, 1003], [1716, 1009], [1722, 1001], [1718.5, 1001]] }, style: { fill: "#9c27b0" } },
  ];

  return {
    animation: false,
    backgroundColor: "#1e222d",
    tooltip: { show: false },
    graphic: { elements: graphic },
    grid: [
      { left: 65, width: 1955, top: 27, height: 987 },
      { left: 65, width: 1955, top: 1014, height: 112 },
      { left: 65, width: 1955, top: 1126, height: 79 },
      { left: 65, width: 1955, top: 125.26, height: 808 },
      { left: 65, width: 1653, top: 27, height: rightProfile.length * 4 },
    ],
    xAxis: [
      { type: "category", gridIndex: 0, data: categories, boundaryGap: false, show: false },
      hiddenX(0, 0, 272),
      hiddenX(1, 0, 272),
      hiddenX(2, 0, 272),
      { type: "category", gridIndex: 2, data: categories, boundaryGap: false, position: "bottom",
        axisLine: { show: false }, axisTick: { show: false },
        axisLabel: { margin: 9, interval: (_: number, v: string) => v !== "", color: "#131722", fontSize: 12, fontFamily: FONT,
          formatter: (v: string) => (v === "Sep" || v === "Oct" ? `{b|${v}}` : v),
          rich: { b: { fontWeight: "bold", fontSize: 12, color: "#131722", fontFamily: FONT } } } },
      hiddenX(3, 0, 1955),
      hiddenX(4, 0, 3676, true),
    ],
    yAxis: [
      { type: "value", gridIndex: 0, position: "right", min: 1.03992, max: 1.10058, splitLine: { show: false }, axisLine: { show: false }, axisTick: { show: false },
        axisLabel: { ...labelStyle, margin: 6, customValues: priceTicks, formatter: (v: number) => v.toFixed(5) } },
      { type: "value", gridIndex: 1, position: "right", min: -89, max: 69.2, splitLine: { show: false }, axisLine: { show: false }, axisTick: { show: false },
        axisLabel: { ...labelStyle, margin: 6, customValues: cciTicks, formatter: (v: number) => v.toFixed(5) } },
      { type: "value", gridIndex: 2, position: "left", min: -11.1, max: 113.7, splitLine: { show: false }, axisLine: { show: false }, axisTick: { show: false },
        axisLabel: { ...labelStyle, margin: 7, customValues: stochTicks, formatter: (v: number) => v.toFixed(2) } },
      { type: "value", gridIndex: 2, position: "right", min: -5.9, max: 110.3, splitLine: { show: false }, axisLine: { show: false }, axisTick: { show: false },
        axisLabel: { ...labelStyle, margin: 6, customValues: stochTicks, formatter: (v: number) => v.toFixed(2) } },
      { type: "category", gridIndex: 3, data: rowNames, inverse: true, show: false },
      { type: "category", gridIndex: 4, data: rightProfile.map((_, i) => `${i}`), inverse: true, show: false },
    ],
    series,
  };
}

export default function App() {
  const ref = useRef<HTMLDivElement>(null);
  useEffect(() => {
    document.body.style.margin = "0";
    echarts.graphic.registerShape("tvlogo", echarts.graphic.extendPath(TV_LOGO, {}) as any);
    const chart = echarts.init(ref.current!, undefined, { renderer: "svg" });
    chart.setOption(buildOption() as any);
    return () => chart.dispose();
  }, []);
  return <div ref={ref} style={{ position: "absolute", left: 0, top: 0, width: 2105, height: 1268 }} />;
}
